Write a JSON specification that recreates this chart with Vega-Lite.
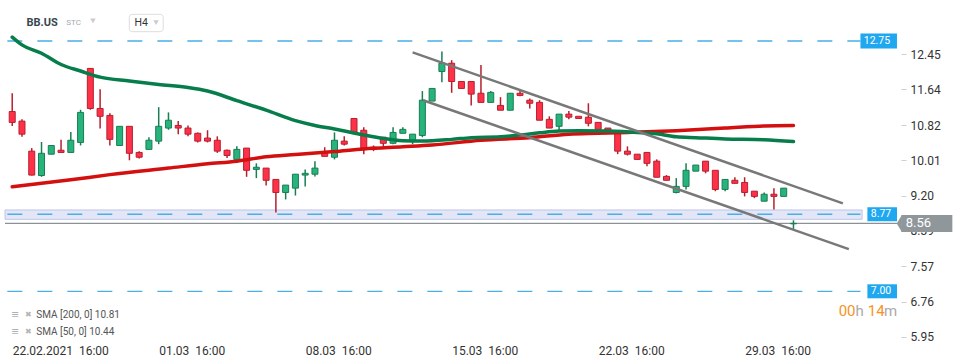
{
  "$schema": "https://vega.github.io/schema/vega-lite/v6.json",
  "width": 901,
  "height": 340,
  "autosize": {"type": "none"},
  "padding": {"left": 0, "top": 0, "right": 69, "bottom": 24},
  "background": "#ffffff",
  "config": {"view": {"stroke": null}, "font": "Roboto", "text": {"font": "Roboto"}},
  "datasets": {
    "candles": [
      {"i":0,"o":11.13,"h":11.55,"l":10.80,"c":10.88},
      {"i":1,"o":10.91,"h":10.95,"l":10.55,"c":10.61},
      {"i":2,"o":10.22,"h":10.29,"l":9.66,"c":9.67},
      {"i":3,"o":9.66,"h":10.43,"l":9.63,"c":10.17},
      {"i":4,"o":10.15,"h":10.36,"l":10.14,"c":10.35},
      {"i":5,"o":10.24,"h":10.48,"l":10.19,"c":10.19},
      {"i":6,"o":10.19,"h":10.66,"l":10.19,"c":10.47},
      {"i":7,"o":10.42,"h":11.17,"l":10.35,"c":11.11},
      {"i":8,"o":12.12,"h":12.12,"l":11.17,"c":11.20},
      {"i":9,"o":11.20,"h":11.64,"l":10.74,"c":11.02},
      {"i":10,"o":11.04,"h":11.09,"l":10.35,"c":10.49},
      {"i":11,"o":10.35,"h":10.79,"l":10.35,"c":10.79},
      {"i":12,"o":10.79,"h":10.79,"l":10.01,"c":10.17},
      {"i":13,"o":10.19,"h":10.22,"l":10.05,"c":10.08},
      {"i":14,"o":10.26,"h":10.54,"l":10.26,"c":10.47},
      {"i":15,"o":10.45,"h":11.23,"l":10.38,"c":10.79},
      {"i":16,"o":10.75,"h":11.11,"l":10.71,"c":10.93},
      {"i":17,"o":10.81,"h":10.91,"l":10.61,"c":10.75},
      {"i":18,"o":10.75,"h":10.81,"l":10.56,"c":10.61},
      {"i":19,"o":10.63,"h":10.65,"l":10.42,"c":10.45},
      {"i":20,"o":10.52,"h":10.70,"l":10.42,"c":10.45},
      {"i":21,"o":10.47,"h":10.56,"l":10.18,"c":10.22},
      {"i":22,"o":10.24,"h":10.26,"l":10.06,"c":10.12},
      {"i":23,"o":10.03,"h":10.33,"l":9.96,"c":10.26},
      {"i":24,"o":10.29,"h":10.29,"l":9.63,"c":9.78},
      {"i":25,"o":9.80,"h":9.94,"l":9.60,"c":9.85},
      {"i":26,"o":9.83,"h":9.83,"l":9.43,"c":9.55},
      {"i":27,"o":9.57,"h":9.57,"l":8.81,"c":9.27},
      {"i":28,"o":9.27,"h":9.44,"l":9.11,"c":9.44},
      {"i":29,"o":9.37,"h":9.69,"l":9.20,"c":9.69},
      {"i":30,"o":9.67,"h":9.80,"l":9.41,"c":9.71},
      {"i":31,"o":9.69,"h":9.99,"l":9.64,"c":9.83},
      {"i":32,"o":10.17,"h":10.31,"l":10.10,"c":10.10},
      {"i":33,"o":10.08,"h":10.65,"l":10.03,"c":10.47},
      {"i":34,"o":10.45,"h":10.56,"l":10.35,"c":10.38},
      {"i":35,"o":10.97,"h":10.97,"l":10.65,"c":10.65},
      {"i":36,"o":10.70,"h":10.77,"l":10.15,"c":10.29},
      {"i":37,"o":10.31,"h":10.35,"l":10.22,"c":10.26},
      {"i":38,"o":10.54,"h":10.54,"l":10.33,"c":10.40},
      {"i":39,"o":10.40,"h":10.77,"l":10.38,"c":10.65},
      {"i":40,"o":10.63,"h":10.77,"l":10.63,"c":10.72},
      {"i":41,"o":10.47,"h":10.61,"l":10.38,"c":10.61},
      {"i":42,"o":10.58,"h":11.60,"l":10.54,"c":11.39},
      {"i":43,"o":11.37,"h":11.66,"l":11.37,"c":11.66},
      {"i":44,"o":12.05,"h":12.51,"l":11.80,"c":12.24},
      {"i":45,"o":12.24,"h":12.31,"l":11.56,"c":11.82},
      {"i":46,"o":11.82,"h":11.82,"l":11.66,"c":11.66},
      {"i":47,"o":11.82,"h":11.82,"l":11.27,"c":11.53},
      {"i":48,"o":11.55,"h":12.20,"l":11.34,"c":11.34},
      {"i":49,"o":11.34,"h":11.60,"l":11.34,"c":11.57},
      {"i":50,"o":11.27,"h":11.46,"l":11.16,"c":11.16},
      {"i":51,"o":11.16,"h":11.55,"l":11.16,"c":11.55},
      {"i":52,"o":11.55,"h":11.60,"l":11.48,"c":11.50},
      {"i":53,"o":11.39,"h":11.43,"l":11.20,"c":11.32},
      {"i":54,"o":11.34,"h":11.39,"l":10.93,"c":10.93},
      {"i":55,"o":10.95,"h":11.02,"l":10.75,"c":10.75},
      {"i":56,"o":10.79,"h":11.07,"l":10.68,"c":11.07},
      {"i":57,"o":11.07,"h":11.14,"l":10.95,"c":11.00},
      {"i":58,"o":11.02,"h":11.02,"l":10.97,"c":10.97},
      {"i":59,"o":11.00,"h":11.32,"l":10.79,"c":10.86},
      {"i":60,"o":10.88,"h":10.88,"l":10.72,"c":10.72},
      {"i":61,"o":10.75,"h":10.75,"l":10.70,"c":10.70},
      {"i":62,"o":10.63,"h":10.63,"l":10.15,"c":10.22},
      {"i":63,"o":10.22,"h":10.33,"l":10.12,"c":10.15},
      {"i":64,"o":10.15,"h":10.15,"l":10.03,"c":10.03},
      {"i":65,"o":10.19,"h":10.19,"l":9.87,"c":9.94},
      {"i":66,"o":9.99,"h":10.03,"l":9.62,"c":9.62},
      {"i":67,"o":9.64,"h":9.67,"l":9.55,"c":9.55},
      {"i":68,"o":9.27,"h":9.60,"l":9.25,"c":9.41},
      {"i":69,"o":9.41,"h":9.94,"l":9.34,"c":9.78},
      {"i":70,"o":9.76,"h":9.90,"l":9.76,"c":9.90},
      {"i":71,"o":9.99,"h":9.99,"l":9.71,"c":9.76},
      {"i":72,"o":9.78,"h":9.78,"l":9.30,"c":9.34},
      {"i":73,"o":9.34,"h":9.57,"l":9.30,"c":9.57},
      {"i":74,"o":9.55,"h":9.62,"l":9.48,"c":9.48},
      {"i":75,"o":9.50,"h":9.62,"l":9.18,"c":9.27},
      {"i":76,"o":9.30,"h":9.30,"l":9.14,"c":9.18},
      {"i":77,"o":9.07,"h":9.27,"l":9.07,"c":9.23},
      {"i":78,"o":9.23,"h":9.37,"l":8.88,"c":9.18},
      {"i":79,"o":9.18,"h":9.37,"l":9.18,"c":9.37},
      {"i":80,"o":8.55,"h":8.63,"l":8.42,"c":8.56}
    ],
    "sma200": [
      {"i":0,"v":9.40},{"i":6,"v":9.56},{"i":10,"v":9.68},{"i":16,"v":9.83},{"i":20,"v":9.93},
      {"i":23,"v":9.99},{"i":26,"v":10.09},{"i":29,"v":10.14},{"i":33,"v":10.21},{"i":36,"v":10.27},
      {"i":40,"v":10.32},{"i":43,"v":10.36},{"i":48,"v":10.47},{"i":53,"v":10.53},{"i":57,"v":10.61},
      {"i":60,"v":10.63},{"i":63,"v":10.65},{"i":68,"v":10.69},{"i":73,"v":10.75},{"i":77,"v":10.80},
      {"i":80,"v":10.81}
    ],
    "sma50": [
      {"i":0,"v":12.84},{"i":1,"v":12.66},{"i":3,"v":12.47},{"i":5,"v":12.21},{"i":7,"v":12.06},
      {"i":9,"v":11.92},{"i":12,"v":11.83},{"i":15,"v":11.75},{"i":18,"v":11.68},{"i":20,"v":11.60},
      {"i":23,"v":11.38},{"i":26,"v":11.16},{"i":29,"v":10.92},{"i":31,"v":10.81},{"i":33,"v":10.73},
      {"i":36,"v":10.59},{"i":38,"v":10.51},{"i":40,"v":10.46},{"i":42,"v":10.45},{"i":45,"v":10.49},
      {"i":47,"v":10.53},{"i":50,"v":10.55},{"i":52,"v":10.59},{"i":54,"v":10.64},{"i":56,"v":10.68},
      {"i":58,"v":10.69},{"i":61,"v":10.68},{"i":64,"v":10.65},{"i":66,"v":10.62},{"i":68,"v":10.55},
      {"i":70,"v":10.53},{"i":73,"v":10.50},{"i":77,"v":10.48},{"i":80,"v":10.44}
    ],
    "trend": [
      {"i1":41.0,"v1":12.49,"i2":85.06,"v2":9.02},
      {"i1":42.07,"v1":11.39,"i2":85.67,"v2":7.97}
    ],
    "levels": [{"v":12.75},{"v":8.77},{"v":7.00}],
    "band": [{"lo":8.654,"hi":8.868}],
    "price": [{"v":8.56}]
  },
  "layer": [
    {
      "data": {"name": "band"},
      "mark": {"type": "rect", "fill": "#e3e6f6", "stroke": "#bfc5ea", "strokeWidth": 1},
      "encoding": {
        "x": {"datum": -0.739, "type": "quantitative", "title": null,
          "scale": {"domain": [-0.739, 90.5], "nice": false, "zero": false},
          "axis": {"values": [0, 15, 30, 45, 60, 75],
            "labelExpr": "datum.value==0?'22.02.2021\u00a0 16:00':datum.value==15?'01.03\u00a0 16:00':datum.value==30?'08.03\u00a0 16:00':datum.value==45?'15.03\u00a0 16:00':datum.value==60?'22.03\u00a0 16:00':'29.03\u00a0 16:00'",
            "labelAlign": "left", "labelFontSize": 12, "labelColor": "#333333", "labelFont": "Roboto",
            "ticks": false, "domain": false, "grid": false, "labelPadding": 5, "title": null,
            "labelFlush": false, "labelOverlap": false}},
        "x2": {"datum": 87.03},
        "y": {"field": "lo", "type": "quantitative", "title": null,
          "scale": {"domain": [5.881, 13.692], "nice": false, "zero": false},
          "axis": {"orient": "right", "values": [12.45, 11.64, 10.82, 10.01, 9.20, 8.39, 7.57, 6.76, 5.95],
            "format": ".2f", "labelFontSize": 12, "labelColor": "#333333", "labelFont": "Roboto",
            "tickSize": 5, "tickColor": "#d0d0d0", "ticks": true, "domain": false, "grid": false,
            "labelPadding": 4, "title": null, "labelFlush": false, "labelOverlap": false, "labelBaseline": "middle"}},
        "y2": {"field": "hi"}
      }
    },
    {
      "data": {"name": "levels"},
      "mark": {"type": "rule", "color": "#4aafe6", "strokeWidth": 1.3, "strokeDash": [15, 15]},
      "encoding": {
        "x": {"datum": -0.5, "type": "quantitative", "title": null},
        "x2": {"datum": 86.86},
        "y": {"field": "v", "type": "quantitative", "title": null}
      }
    },
    {
      "data": {"name": "price"},
      "mark": {"type": "rule", "color": "#8a9296", "strokeWidth": 1.2},
      "encoding": {
        "x": {"datum": -0.739, "type": "quantitative", "title": null},
        "x2": {"datum": 90.6},
        "y": {"field": "v", "type": "quantitative", "title": null}
      }
    },
    {
      "data": {"name": "candles"},
      "mark": {"type": "rule", "strokeWidth": 1.5},
      "encoding": {
        "x": {"field": "i", "type": "quantitative", "title": null},
        "y": {"field": "l", "type": "quantitative", "title": null},
        "y2": {"field": "h"},
        "color": {"condition": {"test": "datum.c >= datum.o", "value": "#1a7d53"}, "value": "#b5202f"}
      }
    },
    {
      "data": {"name": "candles"},
      "mark": {"type": "bar", "width": 6, "strokeWidth": 1},
      "encoding": {
        "x": {"field": "i", "type": "quantitative", "title": null},
        "y": {"field": "o", "type": "quantitative", "title": null},
        "y2": {"field": "c"},
        "fill": {"condition": {"test": "datum.c >= datum.o", "value": "#27b47c"}, "value": "#ff3149"},
        "stroke": {"condition": {"test": "datum.c >= datum.o", "value": "#1a7d53"}, "value": "#b5202f"}
      }
    },
    {
      "data": {"name": "sma200"},
      "mark": {"type": "line", "color": "#d40f0f", "strokeWidth": 3.5, "interpolate": "monotone", "strokeCap": "round"},
      "encoding": {
        "x": {"field": "i", "type": "quantitative", "title": null},
        "y": {"field": "v", "type": "quantitative", "title": null}
      }
    },
    {
      "data": {"name": "sma50"},
      "mark": {"type": "line", "color": "#067d4a", "strokeWidth": 3.5, "interpolate": "monotone", "strokeCap": "round"},
      "encoding": {
        "x": {"field": "i", "type": "quantitative", "title": null},
        "y": {"field": "v", "type": "quantitative", "title": null}
      }
    },
    {
      "data": {"name": "trend"},
      "mark": {"type": "rule", "color": "#787878", "strokeWidth": 2.5},
      "encoding": {
        "x": {"field": "i1", "type": "quantitative", "title": null},
        "x2": {"field": "i2"},
        "y": {"field": "v1", "type": "quantitative", "title": null},
        "y2": {"field": "v2"}
      }
    },
    {
      "data": {"name": "levels"},
      "transform": [{"filter": "datum.v > 12"}],
      "mark": {"type": "rule", "color": "#1fa8f0", "strokeWidth": 15},
      "encoding": {
        "x": {"datum": 86.86, "type": "quantitative", "title": null},
        "x2": {"datum": 90.6},
        "y": {"field": "v", "type": "quantitative", "title": null}
      }
    },
    {
      "data": {"name": "levels"},
      "transform": [{"filter": "datum.v < 12"}],
      "mark": {"type": "rule", "color": "#1fa8f0", "strokeWidth": 14},
      "encoding": {
        "x": {"datum": 87.57, "type": "quantitative", "title": null},
        "x2": {"datum": 90.6},
        "y": {"field": "v", "type": "quantitative", "title": null}
      }
    },
    {
      "data": {"name": "levels"},
      "transform": [{"filter": "datum.v > 12"}],
      "mark": {"type": "text", "color": "#ffffff", "fontSize": 10.5, "align": "center", "baseline": "middle"},
      "encoding": {
        "x": {"datum": 88.55, "type": "quantitative", "title": null},
        "y": {"field": "v", "type": "quantitative", "title": null},
        "text": {"field": "v", "format": ".2f"}
      }
    },
    {
      "data": {"name": "levels"},
      "transform": [{"filter": "datum.v < 12"}],
      "mark": {"type": "text", "color": "#ffffff", "fontSize": 10.5, "align": "center", "baseline": "middle"},
      "encoding": {
        "x": {"datum": 88.96, "type": "quantitative", "title": null},
        "y": {"field": "v", "type": "quantitative", "title": null},
        "text": {"field": "v", "format": ".2f"}
      }
    },
    {
      "data": {"name": "price"},
      "mark": {"type": "rule", "color": "#8f979b", "strokeWidth": 17},
      "encoding": {
        "x": {"datum": 91.05, "type": "quantitative", "title": null},
        "x2": {"datum": 96.27},
        "y": {"field": "v", "type": "quantitative", "title": null}
      }
    },
    {
      "data": {"name": "price"},
      "mark": {"type": "point", "shape": "M0,-1L-0.6,0L0,1Z", "size": 289, "filled": true, "fill": "#8f979b", "strokeWidth": 0, "opacity": 1},
      "encoding": {
        "x": {"datum": 91.1, "type": "quantitative", "title": null},
        "y": {"field": "v", "type": "quantitative", "title": null}
      }
    },
    {
      "data": {"name": "price"},
      "mark": {"type": "text", "color": "#ffffff", "fontSize": 13, "align": "left", "baseline": "middle"},
      "encoding": {
        "x": {"datum": 91.5, "type": "quantitative", "title": null},
        "y": {"field": "v", "type": "quantitative", "title": null},
        "text": {"field": "v", "format": ".2f"}
      }
    },
    {
      "data": {"values": [{}]},
      "mark": {"type": "rect", "fill": "#ffffff", "stroke": "#dddddd", "strokeWidth": 1, "cornerRadius": 3},
      "encoding": {
        "x": {"datum": 11.99, "type": "quantitative", "title": null},
        "x2": {"datum": 15.46},
        "y": {"datum": 13.363, "type": "quantitative", "title": null},
        "y2": {"datum": 12.964}
      }
    },
    {
      "data": {"values": [{}]},
      "mark": {"type": "text", "text": "BB.US", "fontSize": 11, "fontWeight": "bold", "color": "#37474f", "align": "left", "baseline": "middle"},
      "encoding": {
        "x": {"datum": 1.458, "type": "quantitative", "title": null},
        "y": {"datum": 13.175, "type": "quantitative", "title": null}
      }
    },
    {
      "data": {"values": [{}]},
      "mark": {"type": "text", "text": "STC", "fontSize": 8, "color": "#a0aab0", "align": "left", "baseline": "middle"},
      "encoding": {
        "x": {"datum": 5.54, "type": "quantitative", "title": null},
        "y": {"datum": 13.164, "type": "quantitative", "title": null}
      }
    },
    {
      "data": {"values": [{}]},
      "mark": {"type": "text", "text": "H4", "fontSize": 10.5, "color": "#333333", "align": "left", "baseline": "middle"},
      "encoding": {
        "x": {"datum": 12.53, "type": "quantitative", "title": null},
        "y": {"datum": 13.164, "type": "quantitative", "title": null}
      }
    },
    {
      "data": {"values": [{}]},
      "mark": {"type": "point", "shape": "triangle-down", "size": 30, "filled": true, "fill": "#cccccc", "strokeWidth": 0, "opacity": 1},
      "encoding": {
        "x": {"datum": 8.27, "type": "quantitative", "title": null},
        "y": {"datum": 13.21, "type": "quantitative", "title": null}
      }
    },
    {
      "data": {"values": [{}]},
      "mark": {"type": "point", "shape": "triangle-down", "size": 30, "filled": true, "fill": "#cccccc", "strokeWidth": 0, "opacity": 1},
      "encoding": {
        "x": {"datum": 14.73, "type": "quantitative", "title": null},
        "y": {"datum": 13.175, "type": "quantitative", "title": null}
      }
    },
    {
      "data": {"values": [{}]},
      "mark": {"type": "text", "text": "≡", "fontSize": 13, "fontWeight": "bold", "color": "#b0b0b0", "align": "center", "baseline": "middle"},
      "encoding": {
        "x": {"datum": 0.27, "type": "quantitative", "title": null},
        "y": {"datum": 6.456, "type": "quantitative", "title": null}
      }
    },
    {
      "data": {"values": [{}]},
      "mark": {"type": "text", "text": "≡", "fontSize": 13, "fontWeight": "bold", "color": "#b0b0b0", "align": "center", "baseline": "middle"},
      "encoding": {
        "x": {"datum": 0.27, "type": "quantitative", "title": null},
        "y": {"datum": 6.058, "type": "quantitative", "title": null}
      }
    },
    {
      "data": {"values": [{}]},
      "mark": {"type": "text", "text": "✖", "fontSize": 8, "color": "#b5b5b5", "align": "center", "baseline": "middle"},
      "encoding": {
        "x": {"datum": 1.62, "type": "quantitative", "title": null},
        "y": {"datum": 6.456, "type": "quantitative", "title": null}
      }
    },
    {
      "data": {"values": [{}]},
      "mark": {"type": "text", "text": "✖", "fontSize": 8, "color": "#b5b5b5", "align": "center", "baseline": "middle"},
      "encoding": {
        "x": {"datum": 1.62, "type": "quantitative", "title": null},
        "y": {"datum": 6.058, "type": "quantitative", "title": null}
      }
    },
    {
      "data": {"values": [{}]},
      "mark": {"type": "text", "text": "SMA [200,  0] 10.81", "fontSize": 10, "color": "#555555", "align": "left", "baseline": "middle"},
      "encoding": {
        "x": {"datum": 2.47, "type": "quantitative", "title": null},
        "y": {"datum": 6.456, "type": "quantitative", "title": null}
      }
    },
    {
      "data": {"values": [{}]},
      "mark": {"type": "text", "text": "SMA [50,  0] 10.44", "fontSize": 10, "color": "#555555", "align": "left", "baseline": "middle"},
      "encoding": {
        "x": {"datum": 2.47, "type": "quantitative", "title": null},
        "y": {"datum": 6.058, "type": "quantitative", "title": null}
      }
    },
    {
      "data": {"values": [{}]},
      "mark": {"type": "text", "text": "00", "fontSize": 15, "color": "#f7931e", "align": "left", "baseline": "middle"},
      "encoding": {
        "x": {"datum": 84.63, "type": "quantitative", "title": null},
        "y": {"datum": 6.547, "type": "quantitative", "title": null}
      }
    },
    {
      "data": {"values": [{}]},
      "mark": {"type": "text", "text": "h", "fontSize": 15, "color": "#aaaaaa", "align": "left", "baseline": "middle"},
      "encoding": {
        "x": {"datum": 86.35, "type": "quantitative", "title": null},
        "y": {"datum": 6.547, "type": "quantitative", "title": null}
      }
    },
    {
      "data": {"values": [{}]},
      "mark": {"type": "text", "text": "14", "fontSize": 15, "color": "#f7931e", "align": "left", "baseline": "middle"},
      "encoding": {
        "x": {"datum": 87.61, "type": "quantitative", "title": null},
        "y": {"datum": 6.547, "type": "quantitative", "title": null}
      }
    },
    {
      "data": {"values": [{}]},
      "mark": {"type": "text", "text": "m", "fontSize": 15, "color": "#aaaaaa", "align": "left", "baseline": "middle"},
      "encoding": {
        "x": {"datum": 89.28, "type": "quantitative", "title": null},
        "y": {"datum": 6.547, "type": "quantitative", "title": null}
      }
    }
  ]
}
